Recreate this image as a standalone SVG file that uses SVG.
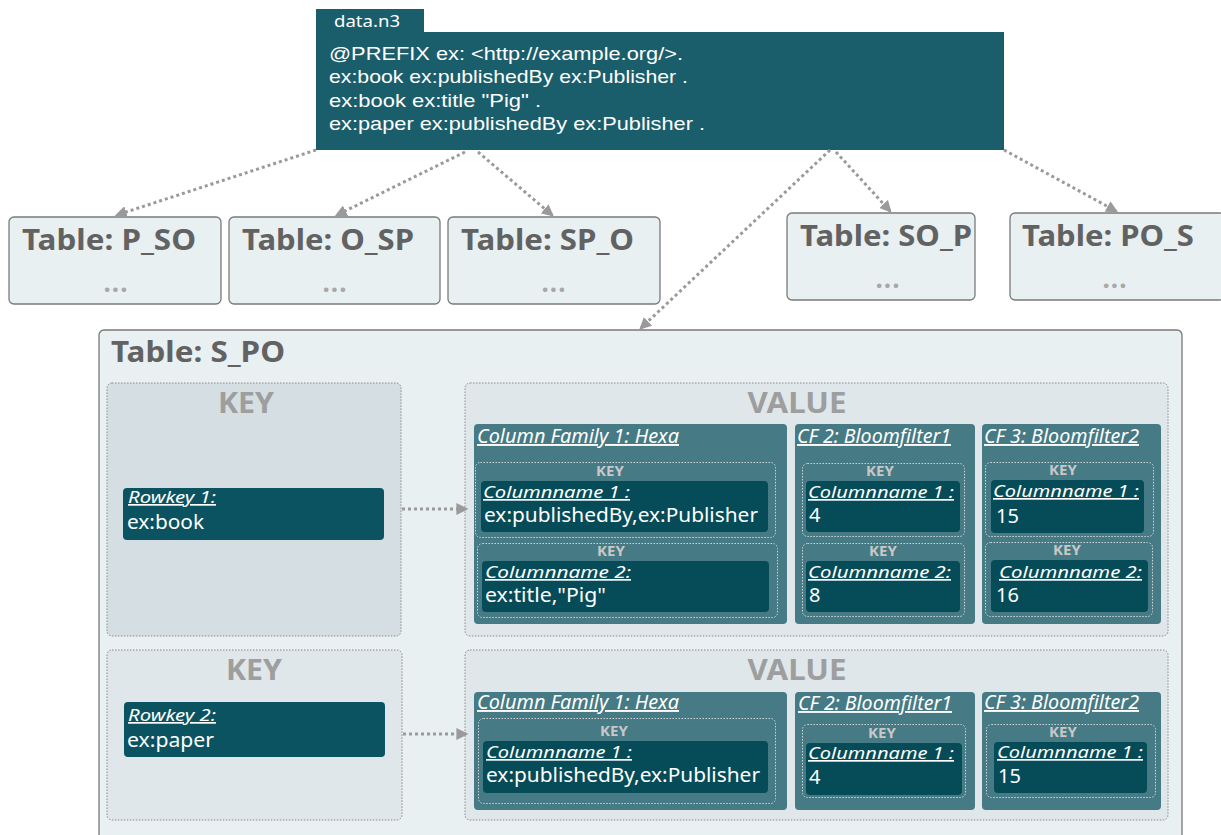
<svg xmlns="http://www.w3.org/2000/svg" width="1221" height="835" viewBox="0 0 1221 835">
  <style>
    text { font-family: "Noto Sans", "Open Sans", sans-serif; }
    .src { fill: #1b5e6b; }
    .srct { fill: #ffffff; font-size: 19px; font-family: "Liberation Sans", Arial, sans-serif; }
    .tbl { fill: #e9f0f1; stroke: #7a7a7a; stroke-width: 1.3; }
    .ttl { fill: #626262; font-size: 28px; font-weight: bold; }
    .dots { fill: #a8a8a8; font-size: 26px; font-weight: bold; text-anchor: middle; letter-spacing: 1px; }
    .keyb { stroke: #8a8a8a; stroke-width: 1; stroke-dasharray: 1.5 1.5; }
    .big { fill: #9e9e9e; font-size: 28px; font-weight: bold; text-anchor: middle; }
    .cf { fill: #467a84; }
    .cft { fill: #ffffff; font-size: 19px; font-style: italic; text-decoration: underline; }
    .sub { fill: none; stroke: #d0d6d8; stroke-width: 1; stroke-dasharray: 1.5 1.5; }
    .sk { fill: #c8c8c8; font-size: 15px; font-weight: bold; text-anchor: middle; }
    .cell { fill: #064b58; }
    .rk { fill: #0b5360; }
    .lbl { fill: #ffffff; font-size: 17px; font-style: italic; text-decoration: underline; }
    .val { fill: #ffffff; font-size: 20px; }
    .conn { fill: none; stroke: #9a9a9a; stroke-width: 3; stroke-dasharray: 3 3; }
  </style>
  <defs>
    <marker id="ah" viewBox="0 0 10 10" refX="8" refY="5" markerWidth="4" markerHeight="4" orient="auto" markerUnits="strokeWidth">
      <path d="M0,0 L10,5 L0,10 z" fill="#9a9a9a"/>
    </marker>
  </defs>

  <!-- source file -->
  <g id="data-n3">
    <rect class="src" x="316" y="9" width="108" height="26"/>
    <rect class="src" x="316" y="32" width="688" height="118"/>
    <text x="334" y="27" fill="#ffffff" font-size="17" textLength="66" lengthAdjust="spacingAndGlyphs">data.n3</text>
    <text class="srct" x="329" y="60" textLength="354" lengthAdjust="spacingAndGlyphs">@PREFIX ex: &lt;http://example.org/&gt;.</text>
    <text class="srct" x="329" y="83" textLength="359" lengthAdjust="spacingAndGlyphs">ex:book ex:publishedBy ex:Publisher .</text>
    <text class="srct" x="329" y="107" textLength="212" lengthAdjust="spacingAndGlyphs">ex:book ex:title "Pig" .</text>
    <text class="srct" x="329" y="130" textLength="376" lengthAdjust="spacingAndGlyphs">ex:paper ex:publishedBy ex:Publisher .</text>
  </g>

  <!-- other index tables -->
  <g id="table-p-so">
    <rect class="tbl" x="9" y="217" width="212" height="87" rx="5"/>
    <text class="ttl" x="22" y="250" textLength="174" lengthAdjust="spacingAndGlyphs">Table: P_SO</text>
    <text class="dots" x="116" y="292">...</text>
  </g>
  <g id="table-o-sp">
    <rect class="tbl" x="229" y="217" width="211" height="87" rx="5"/>
    <text class="ttl" x="242" y="250" textLength="172" lengthAdjust="spacingAndGlyphs">Table: O_SP</text>
    <text class="dots" x="335" y="292">...</text>
  </g>
  <g id="table-sp-o">
    <rect class="tbl" x="448" y="217" width="212" height="87" rx="5"/>
    <text class="ttl" x="461" y="250" textLength="173" lengthAdjust="spacingAndGlyphs">Table: SP_O</text>
    <text class="dots" x="554" y="292">...</text>
  </g>
  <g id="table-so-p">
    <rect class="tbl" x="787" y="213" width="188" height="87" rx="5"/>
    <text class="ttl" x="800" y="246" textLength="172" lengthAdjust="spacingAndGlyphs">Table: SO_P</text>
    <text class="dots" x="888" y="288">...</text>
  </g>
  <g id="table-po-s">
    <rect class="tbl" x="1010" y="213" width="215" height="87" rx="5"/>
    <text class="ttl" x="1022" y="246" textLength="172" lengthAdjust="spacingAndGlyphs">Table: PO_S</text>
    <text class="dots" x="1115" y="288">...</text>
  </g>

  <!-- S_PO table with two rows -->
  <g id="table-s-po">
    <rect class="tbl" x="99" y="330" width="1083" height="520" rx="5"/>
    <text class="ttl" x="111" y="362" textLength="174" lengthAdjust="spacingAndGlyphs">Table: S_PO</text>
  </g>

  <!-- row 1 -->
  <g id="row1-key">
    <rect class="keyb" x="107" y="383" width="294" height="253" rx="5" fill="#d5dfe3"/>
    <text class="big" x="246" y="413" textLength="56" lengthAdjust="spacingAndGlyphs">KEY</text>
    <rect class="rk" x="123" y="488" width="261" height="52" rx="4"/>
    <text class="lbl" x="128" y="503" textLength="88" lengthAdjust="spacingAndGlyphs">Rowkey 1:</text>
    <text class="val" x="127" y="529" textLength="77" lengthAdjust="spacingAndGlyphs">ex:book</text>
  </g>
  <g id="row1-value">
    <rect class="keyb" x="465" y="383" width="703" height="253" rx="5" fill="#dfe7ea"/>
    <text class="big" x="797" y="413" textLength="99" lengthAdjust="spacingAndGlyphs">VALUE</text>
  </g>
  <g id="row1-cf1">
    <rect class="cf" x="474" y="424" width="313" height="200" rx="4"/>
    <text class="cft" x="477" y="443" textLength="202" lengthAdjust="spacingAndGlyphs">Column Family 1: Hexa</text>
    <rect class="sub" x="475.5" y="462.5" width="300" height="75" rx="5"/>
    <text class="sk" x="610" y="476">KEY</text>
    <rect class="cell" x="481" y="481" width="287" height="51" rx="4"/>
    <text class="lbl" x="483" y="498" textLength="147" lengthAdjust="spacingAndGlyphs">Columnname 1 :</text>
    <text class="val" x="484" y="522" textLength="274" lengthAdjust="spacingAndGlyphs">ex:publishedBy,ex:Publisher</text>
    <rect class="sub" x="477.5" y="543.5" width="300" height="74" rx="5"/>
    <text class="sk" x="611" y="556">KEY</text>
    <rect class="cell" x="482" y="561" width="287" height="51" rx="4"/>
    <text class="lbl" x="485" y="578" textLength="146" lengthAdjust="spacingAndGlyphs">Columnname  2:</text>
    <text class="val" x="485" y="602" textLength="121" lengthAdjust="spacingAndGlyphs">ex:title,"Pig"</text>
  </g>
  <g id="row1-cf2">
    <rect class="cf" x="795" y="424" width="180" height="200" rx="4"/>
    <text class="cft" x="797" y="443" textLength="154" lengthAdjust="spacingAndGlyphs">CF 2: Bloomfilter1</text>
    <rect class="sub" x="802.5" y="463.5" width="162" height="73" rx="5"/>
    <text class="sk" x="880" y="476">KEY</text>
    <rect class="cell" x="806" y="481" width="154" height="51" rx="4"/>
    <text class="lbl" x="808" y="498" textLength="146" lengthAdjust="spacingAndGlyphs">Columnname 1 :</text>
    <text class="val" x="809" y="522">4</text>
    <rect class="sub" x="802.5" y="543.5" width="162" height="73" rx="5"/>
    <text class="sk" x="883" y="556">KEY</text>
    <rect class="cell" x="806" y="561" width="154" height="51" rx="4"/>
    <text class="lbl" x="808" y="578" textLength="143" lengthAdjust="spacingAndGlyphs">Columnname 2:</text>
    <text class="val" x="809" y="602">8</text>
  </g>
  <g id="row1-cf3">
    <rect class="cf" x="982" y="424" width="179" height="200" rx="4"/>
    <text class="cft" x="984" y="443" textLength="155" lengthAdjust="spacingAndGlyphs">CF 3: Bloomfilter2</text>
    <rect class="sub" x="985.5" y="462.5" width="168" height="74" rx="5"/>
    <text class="sk" x="1063" y="475">KEY</text>
    <rect class="cell" x="991" y="480" width="153" height="53" rx="4"/>
    <text class="lbl" x="993" y="497" textLength="146" lengthAdjust="spacingAndGlyphs">Columnname 1 :</text>
    <text class="val" x="996" y="523">15</text>
    <rect class="sub" x="985.5" y="542.5" width="167" height="74" rx="5"/>
    <text class="sk" x="1067" y="555">KEY</text>
    <rect class="cell" x="991" y="560" width="157" height="52" rx="4"/>
    <text class="lbl" x="999" y="578" textLength="143" lengthAdjust="spacingAndGlyphs">Columnname 2:</text>
    <text class="val" x="996" y="602">16</text>
  </g>

  <!-- row 2 -->
  <g id="row2-key">
    <rect class="keyb" x="107" y="650" width="295" height="170" rx="5" fill="#dfe7ea"/>
    <text class="big" x="254" y="680" textLength="56" lengthAdjust="spacingAndGlyphs">KEY</text>
    <rect class="rk" x="124" y="702" width="261" height="55" rx="4"/>
    <text class="lbl" x="128" y="721" textLength="88" lengthAdjust="spacingAndGlyphs">Rowkey 2:</text>
    <text class="val" x="127" y="747" textLength="87" lengthAdjust="spacingAndGlyphs">ex:paper</text>
  </g>
  <g id="row2-value">
    <rect class="keyb" x="465" y="650" width="703" height="170" rx="5" fill="#dfe7ea"/>
    <text class="big" x="797" y="680" textLength="99" lengthAdjust="spacingAndGlyphs">VALUE</text>
  </g>
  <g id="row2-cf1">
    <rect class="cf" x="474" y="692" width="313" height="118" rx="4"/>
    <text class="cft" x="477" y="709" textLength="202" lengthAdjust="spacingAndGlyphs">Column Family 1: Hexa</text>
    <rect class="sub" x="478.5" y="718.5" width="297" height="85" rx="5"/>
    <text class="sk" x="614" y="736">KEY</text>
    <rect class="cell" x="483" y="741" width="285" height="52" rx="4"/>
    <text class="lbl" x="486" y="758" textLength="146" lengthAdjust="spacingAndGlyphs">Columnname 1 :</text>
    <text class="val" x="486" y="782" textLength="274" lengthAdjust="spacingAndGlyphs">ex:publishedBy,ex:Publisher</text>
  </g>
  <g id="row2-cf2">
    <rect class="cf" x="795" y="692" width="180" height="118" rx="4"/>
    <text class="cft" x="798" y="710" textLength="154" lengthAdjust="spacingAndGlyphs">CF  2: Bloomfilter1</text>
    <rect class="sub" x="802.5" y="724.5" width="163" height="73" rx="5"/>
    <text class="sk" x="882" y="738">KEY</text>
    <rect class="cell" x="806" y="743" width="156" height="52" rx="4"/>
    <text class="lbl" x="808" y="759" textLength="146" lengthAdjust="spacingAndGlyphs">Columnname 1 :</text>
    <text class="val" x="809" y="784">4</text>
  </g>
  <g id="row2-cf3">
    <rect class="cf" x="982" y="692" width="179" height="118" rx="4"/>
    <text class="cft" x="984" y="709" textLength="155" lengthAdjust="spacingAndGlyphs">CF 3: Bloomfilter2</text>
    <rect class="sub" x="986.5" y="724.5" width="169" height="73" rx="5"/>
    <text class="sk" x="1063" y="737">KEY</text>
    <rect class="cell" x="994" y="742" width="153" height="51" rx="4"/>
    <text class="lbl" x="997" y="758" textLength="146" lengthAdjust="spacingAndGlyphs">Columnname 1 :</text>
    <text class="val" x="998" y="783">15</text>
  </g>

  <!-- dotted connectors -->
  <g id="connectors">
    <line class="conn" x1="316" y1="150" x2="117" y2="215" marker-end="url(#ah)"/>
    <line class="conn" x1="465" y1="152" x2="337" y2="215" marker-end="url(#ah)"/>
    <line class="conn" x1="478" y1="152" x2="552" y2="215" marker-end="url(#ah)"/>
    <line class="conn" x1="830" y1="150" x2="641" y2="328" marker-end="url(#ah)"/>
    <line class="conn" x1="836" y1="152" x2="890" y2="211" marker-end="url(#ah)"/>
    <line class="conn" x1="1004" y1="150" x2="1116" y2="211" marker-end="url(#ah)"/>
    <line class="conn" x1="402" y1="509" x2="466" y2="509" marker-end="url(#ah)"/>
    <line class="conn" x1="403" y1="734" x2="466" y2="734" marker-end="url(#ah)"/>
  </g>
</svg>
